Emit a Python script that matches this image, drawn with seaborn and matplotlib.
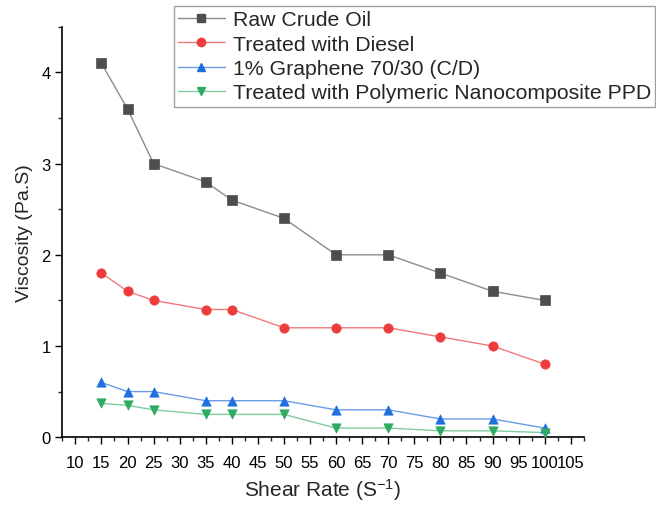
import numpy as np
import pandas as pd
import matplotlib
matplotlib.use("Agg")
import matplotlib.pyplot as plt
from matplotlib.lines import Line2D
from matplotlib.ticker import MultipleLocator
import seaborn as sns

# Data
shear_rate = [15, 20, 25, 35, 40, 50, 60, 70, 80, 90, 100]
raw_crude = [4.1, 3.6, 3.0, 2.8, 2.6, 2.4, 2.0, 2.0, 1.8, 1.6, 1.5]
diesel = [1.8, 1.6, 1.5, 1.4, 1.4, 1.2, 1.2, 1.2, 1.1, 1.0, 0.8]
graphene = [0.6, 0.5, 0.5, 0.4, 0.4, 0.4, 0.3, 0.3, 0.2, 0.2, 0.1]
ppd = [0.37, 0.35, 0.3, 0.25, 0.25, 0.25, 0.1, 0.1, 0.07, 0.07, 0.05]

labels = ["Raw Crude Oil", "Treated with Diesel", "1% Graphene 70/30 (C/D)",
          "Treated with Polymeric Nanocomposite PPD"]
series = [raw_crude, diesel, graphene, ppd]
marker_colors = ["#4d4d4d", "#ee3b3b", "#1f6fdf", "#2eaa62"]
line_colors = ["#8c8c8c", "#f07a7a", "#6b9be8", "#7fcca0"]
markers = ["s", "o", "^", "v"]

sns.set_style("ticks")
plt.rcParams['font.family'] = ['Liberation Sans', 'DejaVu Sans']
plt.rcParams['mathtext.fontset'] = 'custom'
plt.rcParams['mathtext.rm'] = 'Liberation Sans'
plt.rcParams['mathtext.default'] = 'regular'

fig = plt.figure(figsize=(6.56, 5.06), dpi=100)
ax = fig.add_axes([0.095, 0.134, 0.795, 0.811])

for lab, vals, mc, lc, mk in zip(labels, series, marker_colors, line_colors, markers):
    df = pd.DataFrame({"x": shear_rate, "y": vals})
    sns.lineplot(data=df, x="x", y="y", ax=ax, color=lc, linewidth=1.0, zorder=2)
    sns.scatterplot(data=df, x="x", y="y", ax=ax, color=mc, marker=mk, s=45,
                    edgecolor=mc, linewidth=0.5, zorder=3)

ax.set_xlim(7.5, 107.5)
ax.set_ylim(0, 4.5)
ax.xaxis.set_minor_locator(MultipleLocator(2.5))
ax.yaxis.set_major_locator(MultipleLocator(1))
ax.yaxis.set_minor_locator(MultipleLocator(0.5))
ax.set_xticks(np.arange(10, 106, 5))
ax.tick_params(axis="both", which="major", direction="out", length=5, width=1,
               labelsize=12, colors="black")
ax.tick_params(axis="x", which="major", pad=8)
ax.tick_params(axis="both", which="minor", direction="out", length=3, width=1)
for sp in ["left", "bottom"]:
    ax.spines[sp].set_linewidth(1.2)
    ax.spines[sp].set_color("black")
sns.despine(ax=ax)

ax.set_xlabel("Shear Rate (S$^{-1}$)", fontsize=15, labelpad=4)
ax.set_ylabel("Viscosity (Pa.S)", fontsize=14, labelpad=6)

handles = [Line2D([0], [0], color=lc, marker=mk, markerfacecolor=mc,
                  markeredgecolor=mc, markersize=6, linewidth=1)
           for mc, lc, mk in zip(marker_colors, line_colors, markers)]
leg = fig.legend(handles, labels, loc="upper left", bbox_to_anchor=(0.265, 0.986),
                 fontsize=15.3, frameon=True, fancybox=False, handlelength=2.2,
                 borderpad=0.2, labelspacing=0.25, handletextpad=0.37,
                 borderaxespad=0)
leg.get_frame().set_edgecolor("#888888")
leg.get_frame().set_linewidth(1.0)

fig.savefig("out.png", dpi=100)
